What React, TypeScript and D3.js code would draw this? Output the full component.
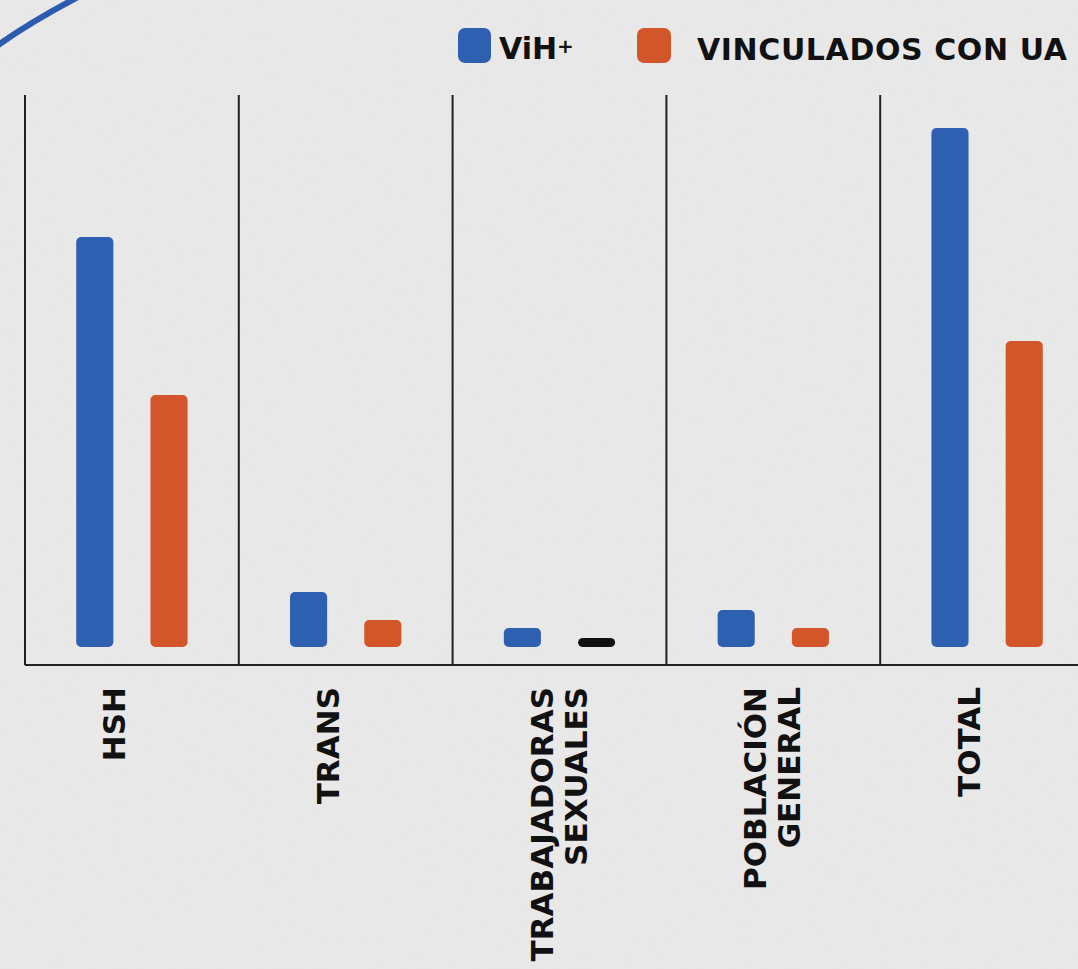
import * as d3 from 'd3'

const W = 1078
const H = 969

const categories = ['HSH', 'TRANS', 'TRABAJADORAS SEXUALES', 'POBLACIÓN GENERAL', 'TOTAL']
const categoryLines = [['HSH'], ['TRANS'], ['TRABAJADORAS', 'SEXUALES'], ['POBLACIÓN', 'GENERAL'], ['TOTAL']]
const series = ['ViH+', 'VINCULADOS CON UA']
const vihValues = [410, 55, 19, 37, 519]
const vincValues = [252, 27, 9, 19, 306]
const seriesColors = ['#2f5fb0', '#d3562a']
// the second bar in TRABAJADORAS SEXUALES is drawn black in the original
const vincBarColors = ['#d3562a', '#d3562a', '#111111', '#d3562a', '#d3562a']

const AXIS_Y = 665
const BASE_Y = 647
const TOP_Y = 128
const LEFT = 25

const x = d3.scaleBand<string>().domain(categories).range([LEFT, LEFT + 5 * 213.8])
const inner = d3.scaleBand<number>().domain([0, 1]).range([0, x.bandwidth()]).paddingInner(0.5).paddingOuter(0.69)
const y = d3.scaleLinear().domain([0, d3.max(vihValues)!]).range([BASE_Y, TOP_Y])

const FONT = '"DejaVu Sans", sans-serif'

export default function App() {
  const bars = categories.flatMap((c, i) => [
    { c, s: 0, v: vihValues[i], color: seriesColors[0] },
    { c, s: 1, v: vincValues[i], color: vincBarColors[i] },
  ])

  return (
    <svg
      width={W}
      height={H}
      viewBox={`0 0 ${W} ${H}`}
      style={{ position: 'absolute', left: 0, top: 0, display: 'block' }}
    >
      <defs>
        <filter id="paper" x="0" y="0" width="100%" height="100%">
          <feTurbulence type="fractalNoise" baseFrequency="0.9" numOctaves="2" seed="3" result="n" />
          <feColorMatrix
            in="n"
            type="matrix"
            values="0 0 0 0 0.5  0 0 0 0 0.5  0 0 0 0 0.5  0 0 0 0.12 0"
          />
        </filter>
      </defs>
      <rect width={W} height={H} fill="#ebebeb" />
      <rect width={W} height={H} filter="url(#paper)" />

      {/* decorative arc, top-left */}
      <path d="M -6 48 Q 30 22 80 -4" fill="none" stroke="#2c5cb0" strokeWidth={6} />

      {/* legend */}
      <g fontFamily={FONT} fontWeight={700} fontSize={30} fill="#111">
        <rect x={458} y={28} width={33} height={35} rx={7} fill={seriesColors[0]} />
        <text x={499} y={59}>
          ViH<tspan fontSize={20} dy={-6}>+</tspan>
        </text>
        <rect x={637} y={28} width={34} height={35} rx={7} fill={seriesColors[1]} />
        <text x={697} y={60} letterSpacing={0.6}>
          {series[1]}
        </text>
      </g>

      {/* separators */}
      {categories.map((c) => (
        <line key={c} x1={x(c)} x2={x(c)} y1={95} y2={AXIS_Y} stroke="#222" strokeWidth={2} />
      ))}
      <line x1={LEFT} x2={W} y1={AXIS_Y} y2={AXIS_Y} stroke="#222" strokeWidth={2} />

      {/* bars */}
      {bars.map((b) => (
        <rect
          key={b.c + b.s}
          x={x(b.c)! + inner(b.s)!}
          y={y(b.v)}
          width={inner.bandwidth()}
          height={BASE_Y - y(b.v)}
          rx={5}
          fill={b.color}
        />
      ))}

      {/* category labels */}
      <g fontFamily={FONT} fontWeight={700} fontSize={31} fill="#111">
        {categories.map((c, i) => {
          const cx = x(c)! + x.bandwidth() / 2 - 7
          return (
            <text key={c} transform={`translate(${cx},687) rotate(-90)`} textAnchor="end">
              {categoryLines[i].map((t, j) => (
                <tspan key={t} x={0} y={j * 34}>
                  {t}
                </tspan>
              ))}
            </text>
          )
        })}
      </g>
    </svg>
  )
}
